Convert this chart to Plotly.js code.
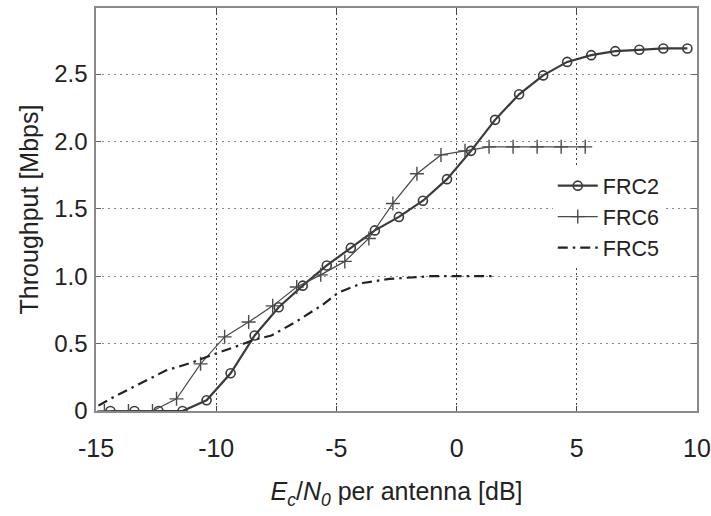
<!DOCTYPE html>
<html>
<head>
<meta charset="utf-8">
<script src="https://cdn.plot.ly/plotly-3.0.1.min.js"></script>
<style>
  html, body { margin: 0; padding: 0; background: #ffffff; }
  #chart { width: 711px; height: 516px; }
</style>
</head>
<body>
<div id="chart"></div>
<script>
// Ec/N0 per antenna [dB] and throughput [Mbps]
var frc2X = [-14.4, -13.4, -12.4, -11.4, -10.4, -9.4, -8.4, -7.4, -6.4, -5.4, -4.4, -3.4, -2.4, -1.4, -0.4, 0.6, 1.6, 2.6, 3.6, 4.6, 5.6, 6.6, 7.6, 8.6, 9.6];
var frc2Y = [0, 0, 0, 0, 0.08, 0.28, 0.56, 0.77, 0.93, 1.08, 1.21, 1.34, 1.44, 1.56, 1.72, 1.93, 2.16, 2.35, 2.49, 2.59, 2.64, 2.67, 2.68, 2.69, 2.69];

var frc6X = [-14.65, -13.65, -12.65, -11.65, -10.65, -9.65, -8.65, -7.65, -6.65, -5.65, -4.65, -3.65, -2.65, -1.65, -0.65, 0.35, 1.35, 2.35, 3.35, 4.35, 5.35];
var frc6Y = [0, 0, 0, 0.09, 0.35, 0.55, 0.66, 0.78, 0.92, 1.01, 1.11, 1.28, 1.54, 1.76, 1.90, 1.93, 1.96, 1.96, 1.96, 1.96, 1.96];

var frc5X = [-14.9, -14.2, -13.2, -12.1, -11.0, -10.2, -9.3, -8.4, -7.7, -6.7, -5.6, -4.9, -3.9, -2.8, -1.1, 0.0, 1.5];
var frc5Y = [0.04, 0.11, 0.20, 0.30, 0.36, 0.415, 0.47, 0.53, 0.56, 0.66, 0.785, 0.88, 0.95, 0.98, 1.0, 1.0, 1.0];

var seriesNames = ["FRC2", "FRC6", "FRC5"];

var xTickVals = [-15, -10, -5, 0, 5, 10];
var xTickText = ["-15", "-10", "-5", "0", "5", "10"];
var yTickVals = [0, 0.5, 1.0, 1.5, 2.0, 2.5];
var yTickText = ["0", "0.5", "1.0", "1.5", "2.0", "2.5"];

var fontFam = "Liberation Sans, Arial, Helvetica, sans-serif";

var traces = [
  {
    x: frc2X, y: frc2Y, name: seriesNames[0], type: "scatter", mode: "lines+markers",
    line: { color: "#3a3a3a", width: 2.2 },
    marker: { symbol: "circle-open", size: 9, color: "#3a3a3a", line: { width: 1.6, color: "#3a3a3a" } }
  },
  {
    x: frc6X, y: frc6Y, name: seriesNames[1], type: "scatter", mode: "lines+markers",
    line: { color: "#4a4a4a", width: 1.2 },
    marker: { symbol: "cross-thin-open", size: 10, color: "#4a4a4a", line: { width: 1.4, color: "#4a4a4a" } }
  },
  {
    x: frc5X, y: frc5Y, name: seriesNames[2], type: "scatter", mode: "lines",
    line: { color: "#222222", width: 2.2, dash: "10px,5px,2.5px,5px" }
  }
];

var layout = {
  width: 711, height: 516,
  margin: { l: 96, r: 14, t: 8, b: 105 },
  paper_bgcolor: "#ffffff", plot_bgcolor: "#ffffff",
  font: { family: fontFam, color: "#222222", size: 24 },
  showlegend: true,
  legend: {
    x: 0.76, y: 0.61, xanchor: "left", yanchor: "top",
    bgcolor: "#ffffff", borderwidth: 0,
    font: { family: fontFam, size: 21.5, color: "#222222" },
    tracegroupgap: 0, itemwidth: 40
  },
  xaxis: {
    range: [-15, 10],
    tickvals: xTickVals, ticktext: xTickText,
    showgrid: true, gridcolor: "#444444", griddash: "1.5px,3.5px", gridwidth: 1,
    zeroline: false,
    showline: true, linecolor: "#8a8a8a", linewidth: 1.6, mirror: "ticks",
    ticks: "inside", ticklen: 5, tickcolor: "#444444",
    tickfont: { family: fontFam, size: 25, color: "#222222" },
    ticklabelstandoff: 14,
    title: {
      text: "<i>E<sub>c</sub></i>/<i>N<sub>0</sub></i> per antenna [dB]",
      font: { family: fontFam, size: 25, color: "#222222" },
      standoff: 22
    }
  },
  yaxis: {
    range: [0, 2.99],
    tickvals: yTickVals, ticktext: yTickText,
    showgrid: true, gridcolor: "#8a8a8a", griddash: "1.5px,4.5px", gridwidth: 1,
    zeroline: false,
    showline: true, linecolor: "#8a8a8a", linewidth: 1.6, mirror: "ticks",
    ticks: "inside", ticklen: 5, tickcolor: "#666666",
    tickfont: { family: fontFam, size: 24, color: "#222222" },
    ticklabelstandoff: 2,
    title: {
      text: "Throughput [Mbps]",
      font: { family: fontFam, size: 25, color: "#222222" },
      standoff: 8
    }
  }
};

Plotly.newPlot("chart", traces, layout, { staticPlot: true, displayModeBar: false });
</script>
</body>
</html>
